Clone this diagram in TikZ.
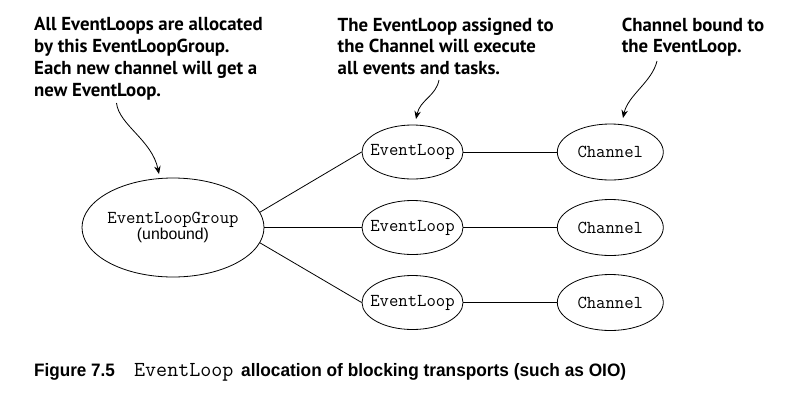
\documentclass[tikz,border=0pt]{standalone}
\usepackage{fontspec}
\setmainfont{Liberation Sans}
\newfontfamily\notefont{PT Sans}
\usetikzlibrary{arrows.meta,shapes.geometric}
\begin{document}
\begin{tikzpicture}[x=1pt,y=-1pt,
  conn/.style={line width=0.8pt},
  oval/.style={draw,ellipse,line width=0.8pt,inner sep=0pt},
  note/.style={anchor=north west,inner sep=0pt,align=left,font=\notefont\bfseries\fontsize{18.8}{21.7}\selectfont},
  callout/.style={line width=0.8pt,-{Stealth[length=8pt,width=6.5pt]}},
  code/.style={font=\ttfamily\fontsize{18.2}{18}\selectfont}
]
\useasboundingbox (0,0) rectangle (806,400);
\node[oval,minimum width=182pt,minimum height=99pt,align=center] (g) at (173,227.5)
  {\makebox[0pt]{\ttfamily\fontsize{18.2}{16}\selectfont EventLoopGroup}\\\makebox[0pt]{\fontsize{15.8}{16}\selectfont (unbound)}};
\foreach \i/\y in {1/152,2/227.5,3/302.5}{
  \node[oval,code,minimum width=101pt,minimum height=54pt] (e\i) at (412.5,\y) {\makebox[0pt]{EventLoop}};
  \node[oval,code,minimum width=106pt,minimum height=56pt] (c\i) at (610.3,\y) {\makebox[0pt]{Channel}};
  \draw[conn] (e\i.east) -- (c\i.west);
}
\draw[conn] (g.10) -- (e1.west);
\draw[conn] (g.east) -- (e2.west);
\draw[conn] (g.-10) -- (e3.west);
\node[note] (n1) at (34,17.5) {All EventLoops are allocated\\by this EventLoopGroup.\\Each new channel will get a\\new EventLoop.};
\node[note] (n2) at (337.5,17.5) {The\ EventLoop\ assigned\ to\\the Channel will execute\\all events and tasks.};
\node[note] (n3) at (621.7,17.5) {Channel bound to\\the EventLoop.};
\coordinate (a1s) at (116.5,103); \coordinate (a1e) at (159,174);
\coordinate (a2s) at (439,80); \coordinate (a2e) at (416,119);
\coordinate (a3s) at (657,61); \coordinate (a3e) at (623,118);
\draw[callout] (a1s) .. controls (119,125) and (152,140) .. (a1e);
\draw[callout] (a2s) .. controls (436,96) and (420,100) .. (a2e);
\draw[callout] (a3s) .. controls (652,82) and (628,95) .. (a3e);
\node[anchor=base west,inner sep=0pt,font=\bfseries\fontsize{18}{20}\selectfont] (cap) at (34,376)
  {\makebox[100pt][l]{\scalebox{0.95}[1]{Figure 7.5}}\makebox[107pt][l]{\ttfamily\mdseries\fontsize{21.4}{20}\selectfont EventLoop}\scalebox{0.96}[1]{allocation of blocking transports (such as OIO)}};
\end{tikzpicture}
\end{document}
